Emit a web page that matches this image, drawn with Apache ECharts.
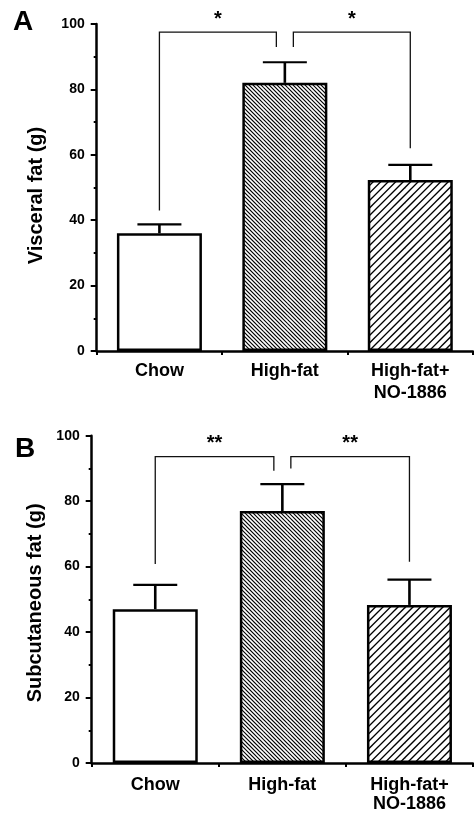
<!DOCTYPE html>
<html>
<head>
<meta charset="utf-8">
<script src="https://cdn.jsdelivr.net/npm/echarts@6/dist/echarts.min.js"></script>
<style>
  html, body { margin: 0; padding: 0; background: #fff; }
  #chart { width: 474px; height: 814px; }
</style>
</head>
<body>
<div id="chart"></div>
<script>
// ---- data ----
const categories = ['Chow', 'High-fat', 'High-fat+\nNO-1886'];
const yTicks = [0, 20, 40, 60, 80, 100];

const visceralMean = [36, 82, 52.3];
const visceralErrTop = [38.7, 88.3, 56.9];
const subcutMean = [47, 77, 48.3];
const subcutErrTop = [54.4, 85.2, 56.0];

// brackets: [fromIndex, toIndex, level, fromEnd, toEnd, label]
const visceralBrackets = [
  [0, 1, 97.5, 43, 93, '*'],
  [1, 2, 97.5, 93, 62, '*']
];
const subcutBrackets = [
  [0, 1, 93.6, 60.8, 89.3, '**'],
  [1, 2, 93.6, 90, 61.5, '**']
];

const panelLetters = ['A', 'B'];
const yNames = ['Visceral fat (g)', 'Subcutaneous fat (g)'];

// ---- styling ----
const FONT = '"Liberation Sans", Arial, Helvetica, sans-serif';

function hatch(period, lw, dir) {
  const n = 6;
  const size = period * n;
  const c = document.createElement('canvas');
  c.width = size; c.height = size;
  const ctx = c.getContext('2d');
  ctx.fillStyle = '#fff';
  ctx.fillRect(0, 0, size, size);
  ctx.strokeStyle = '#000';
  ctx.lineWidth = lw;
  for (let k = -n - 1; k <= n + 1; k++) {
    ctx.beginPath();
    if (dir === 'back') {
      ctx.moveTo(k * period - size, -size);
      ctx.lineTo(k * period + 2 * size, 2 * size);
    } else {
      ctx.moveTo(k * period - size, 2 * size);
      ctx.lineTo(k * period + 2 * size, -size);
    }
    ctx.stroke();
  }
  return { image: c, repeat: 'repeat' };
}
const fills = ['#ffffff', hatch(4, 1.2, 'back'), hatch(7.5, 1.3, 'fwd')];

function barData(vals) {
  return vals.map((v, i) => ({
    value: v,
    itemStyle: { color: fills[i], borderColor: '#000', borderWidth: 2.5 }
  }));
}

function errData(means, tops) {
  return means.map((m, i) => [i, m, tops[i]]);
}

function renderErr(params, api) {
  const x = api.value(0);
  const base = api.coord([x, api.value(1)]);
  const top = api.coord([x, api.value(2)]);
  const half = 22;
  return {
    type: 'group',
    children: [
      { type: 'line', shape: { x1: base[0], y1: base[1], x2: top[0], y2: top[1] },
        style: { stroke: '#000', lineWidth: 2.6 } },
      { type: 'line', shape: { x1: top[0] - half, y1: top[1], x2: top[0] + half, y2: top[1] },
        style: { stroke: '#000', lineWidth: 2.2 } }
    ]
  };
}

function makeBracketRender(brackets) {
  // indices used by more than one bracket get a small gap
  const count = {};
  brackets.forEach(b => { count[b[0]] = (count[b[0]] || 0) + 1; count[b[1]] = (count[b[1]] || 0) + 1; });
  return function (params, api) {
    const b = brackets[params.dataIndex];
    const gap = 8.5;
    const pL = api.coord([b[0], b[2]]);
    const pR = api.coord([b[1], b[2]]);
    let xL = pL[0], xR = pR[0];
    if (count[b[0]] > 1) xL += gap;
    if (count[b[1]] > 1) xR -= gap;
    const yTop = pL[1];
    const yL = api.coord([b[0], b[3]])[1];
    const yR = api.coord([b[1], b[4]])[1];
    return {
      type: 'group',
      children: [
        { type: 'polyline', shape: { points: [[xL, yL], [xL, yTop], [xR, yTop], [xR, yR]] },
          style: { stroke: '#111', lineWidth: 1.3, fill: null } },
        { type: 'text', x: (xL + xR) / 2, y: yTop - 13,
          style: { text: b[5], font: 'bold 20px ' + FONT, fill: '#000',
                   textAlign: 'center', textVerticalAlign: 'middle' } }
      ]
    };
  };
}

const grids = [
  { left: 96.7, right: 1, top: 24, height: 327 },
  { left: 91.7, right: 1, top: 435.7, height: 327.6 }
];

function xAxisOf(gi) {
  return {
    type: 'category', gridIndex: gi, data: categories,
    axisLine: { lineStyle: { color: '#000', width: 2.5 } },
    axisTick: { show: true, length: 4, lineStyle: { color: '#000', width: 2 } },
    axisLabel: { interval: 0, color: '#000', fontFamily: FONT, fontWeight: 'bold',
                 fontSize: 18, lineHeight: gi ? 19 : 22, margin: gi ? 13 : 9 }
  };
}
function yAxisOf(gi) {
  return {
    type: 'value', gridIndex: gi, min: yTicks[0], max: yTicks[yTicks.length - 1],
    interval: yTicks[1] - yTicks[0],
    name: yNames[gi], nameLocation: 'middle', nameRotate: 90, nameGap: gi ? 46 : 50,
    nameTextStyle: { color: '#000', fontFamily: FONT, fontWeight: 'bold', fontSize: 20,
                     padding: gi ? [0, 7, 0, 0] : [0, 16, 0, 0] },
    axisLine: { show: true, lineStyle: { color: '#000', width: 2.5 } },
    axisTick: { show: true, length: 6, lineStyle: { color: '#000', width: 2 } },
    minorTick: { show: true, splitNumber: 2, length: 3, lineStyle: { color: '#000', width: 2 } },
    splitLine: { show: false },
    minorSplitLine: { show: false },
    axisLabel: { color: '#000', fontFamily: FONT, fontWeight: 'bold', fontSize: 14, margin: 12 }
  };
}

const option = {
  backgroundColor: '#fff',
  animation: false,
  grid: grids,
  xAxis: [xAxisOf(0), xAxisOf(1)],
  yAxis: [yAxisOf(0), yAxisOf(1)],
  graphic: panelLetters.map((t, i) => ({
    type: 'text', left: i ? 15 : 13, top: i ? 435 : 8,
    style: { text: t, font: 'bold 28px ' + FONT, fill: '#000' }
  })),
  series: [
    { type: 'bar', xAxisIndex: 0, yAxisIndex: 0, barWidth: 85, data: barData(visceralMean), z: 2 },
    { type: 'custom', xAxisIndex: 0, yAxisIndex: 0, data: errData(visceralMean, visceralErrTop),
      renderItem: renderErr, z: 3 },
    { type: 'custom', xAxisIndex: 0, yAxisIndex: 0, data: visceralBrackets.map((b, i) => [i]),
      renderItem: makeBracketRender(visceralBrackets), z: 4, clip: false },
    { type: 'bar', xAxisIndex: 1, yAxisIndex: 1, barWidth: 85, data: barData(subcutMean), z: 2 },
    { type: 'custom', xAxisIndex: 1, yAxisIndex: 1, data: errData(subcutMean, subcutErrTop),
      renderItem: renderErr, z: 3 },
    { type: 'custom', xAxisIndex: 1, yAxisIndex: 1, data: subcutBrackets.map((b, i) => [i]),
      renderItem: makeBracketRender(subcutBrackets), z: 4, clip: false }
  ]
};

const chart = echarts.init(document.getElementById('chart'), null, { renderer: 'canvas' });
chart.setOption(option);
</script>
</body>
</html>
